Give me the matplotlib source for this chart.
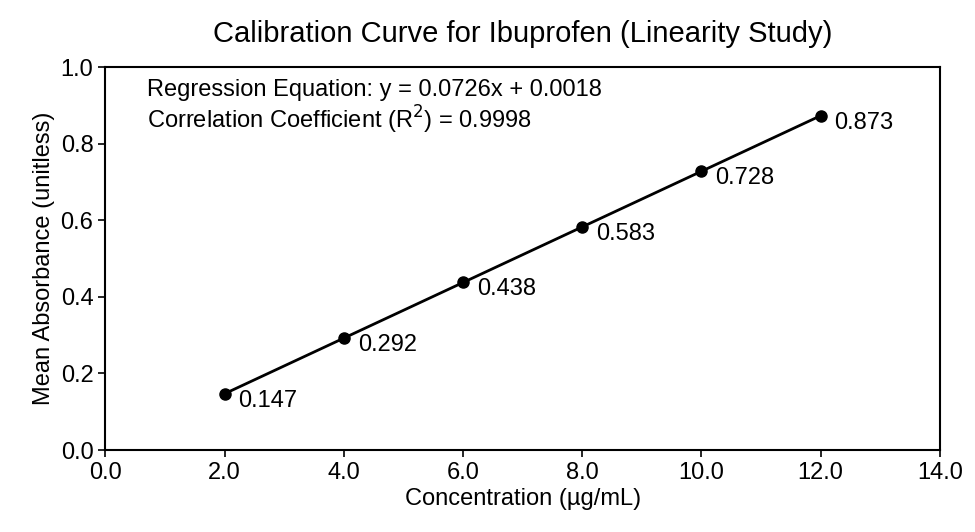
import numpy as np
import matplotlib.pyplot as plt

plt.rcParams['font.family'] = ['Liberation Sans', 'DejaVu Sans']

# calibration data
conc = [2.0, 4.0, 6.0, 8.0, 10.0, 12.0]
absorb = [0.147, 0.292, 0.438, 0.583, 0.728, 0.873]
labels = ["0.147", "0.292", "0.438", "0.583", "0.728", "0.873"]
slope = 0.0726
intercept = 0.0018

fig = plt.figure(figsize=(9.75, 5.32), dpi=100)
ax = fig.add_axes([0.108, 0.154, 0.856, 0.72])

xs = np.array([conc[0], conc[-1]])
ax.plot(xs, slope * xs + intercept, color='black', lw=2)
ax.plot(conc, absorb, 'o', color='black', ms=8)
for x, y, t in zip(conc, absorb, labels):
    ax.annotate(t, (x, y), xytext=(10, -5), textcoords='offset points',
                fontsize=17, va='center', ha='left')

ax.text(0.05, 0.97, "Regression Equation: y = 0.0726x + 0.0018\n"
        "Correlation Coefficient (R$^2$) = 0.9998",
        transform=ax.transAxes, fontsize=17, va='top', linespacing=1.15)

ax.set_xlim(0, 14)
ax.set_ylim(0, 1.0)
ax.set_xticks(np.arange(0, 14.1, 2))
ax.set_xticklabels([f"{v:.1f}" for v in np.arange(0, 14.1, 2)])
ax.set_yticks(np.arange(0, 1.01, 0.2))
ax.set_yticklabels([f"{v:.1f}" for v in np.arange(0, 1.01, 0.2)])
ax.tick_params(labelsize=17, direction='out', length=5, width=1.2)
for s in ax.spines.values():
    s.set_linewidth(1.5)
ax.set_xlabel("Concentration (µg/mL)", fontsize=17, labelpad=3)
ax.set_ylabel("Mean Absorbance (unitless)", fontsize=17)
ax.set_title("Calibration Curve for Ibuprofen (Linearity Study)", fontsize=21, pad=18)

fig.savefig("out.png", dpi=100)
